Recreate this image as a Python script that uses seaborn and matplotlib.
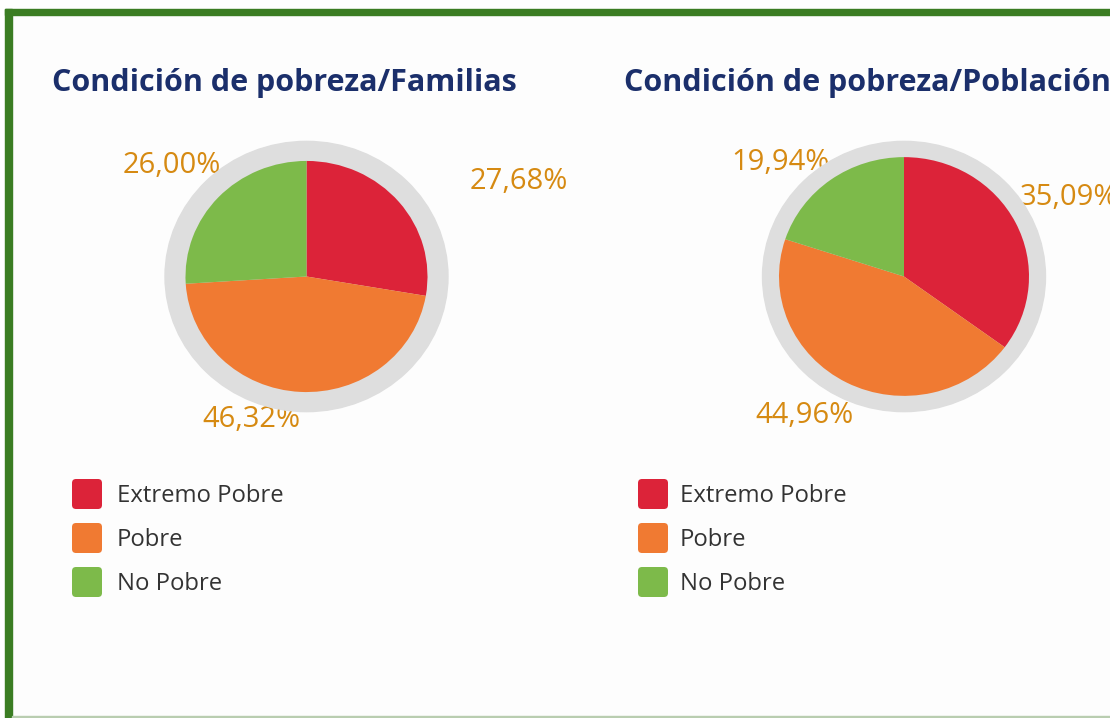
import matplotlib
matplotlib.use("Agg")
import matplotlib.pyplot as plt
from matplotlib.patches import Circle, Rectangle, FancyBboxPatch
import seaborn as sns

# --- data -------------------------------------------------------------
categories = ["Extremo Pobre", "Pobre", "No Pobre"]
familias = [27.68, 46.32, 26.00]
poblacion = [35.09, 44.96, 19.94]
titles = ["Condición de pobreza/Familias", "Condición de pobreza/Población"]

# --- style ------------------------------------------------------------
sns.set_theme(style="white")
plt.rcParams["font.family"] = ["Open Sans", "DejaVu Sans"]
palette = sns.color_palette(["#dc2339", "#f07a32", "#7dba4a"])
ring_color = "#dedede"
title_color = "#1b2f6b"
label_color = "#d68a12"
text_color = "#333333"
border_green = "#3b7d23"

W, H = 1110, 718
fig = plt.figure(figsize=(W / 100, H / 100), dpi=100, facecolor="#fdfdfd")
ax = fig.add_axes([0, 0, 1, 1])
ax.set_xlim(0, W)
ax.set_ylim(0, H)
ax.axis("off")


def py(y):
    """Convert a top-down pixel row to axis y."""
    return H - y


# panel layout (pixel units)
squash = 0.955   # pies are drawn slightly flattened
half = 150       # half-size of each pie's own axes, in pixels
panels = [
    dict(values=familias, title_x=52, center=(306.5, 276.5), r=121, ring=141.5,
         labels_xy=[(470, 189), (202, 427), (123, 173)],
         leg_x=72, text_x=117),
    dict(values=poblacion, title_x=624, center=(904, 276.5), r=125, ring=141.5,
         labels_xy=[(1020, 205), (755, 423), (731, 170)],
         leg_x=638, text_x=680),
]
legend_rows = [494, 538, 582]

for i, p in enumerate(panels):
    cx, cy = p["center"]
    pax = fig.add_axes([(cx - half) / W, (H - cy - half * squash) / H,
                        2 * half / W, 2 * half * squash / H])
    pax.add_patch(Circle((0, 0), p["ring"], color=ring_color, zorder=1))
    wedges, _ = pax.pie(p["values"], colors=palette, startangle=90,
                        counterclock=False, radius=p["r"], frame=True,
                        wedgeprops=dict(linewidth=0))
    for w in wedges:
        w.set_zorder(2)
    pax.set_aspect("auto")
    pax.set_xlim(-half, half)
    pax.set_ylim(-half, half)
    pax.axis("off")

    for v, (lx, ly) in zip(p["values"], p["labels_xy"]):
        ax.text(lx, py(ly), f"{v:.2f}%".replace(".", ","), color=label_color,
                fontsize=21, ha="left", va="baseline", zorder=3)
    ax.text(p["title_x"], py(91), titles[i], color=title_color,
            fontsize=22, fontweight="bold", ha="left", va="baseline")
    for cat, col, ry in zip(categories, palette, legend_rows):
        ax.add_patch(FancyBboxPatch((p["leg_x"] + 3, py(ry) - 12), 24, 24,
                                    boxstyle="round,pad=3,rounding_size=4",
                                    facecolor=col, edgecolor="none"))
        ax.text(p["text_x"], py(ry + 2), cat, color=text_color, fontsize=17.2,
                ha="left", va="center")

# frame around the panel
ax.add_patch(Rectangle((0, py(9)), W, 9, color="white", zorder=0))
ax.add_patch(Rectangle((0, 0), 5, H, color="white", zorder=0))
ax.add_patch(Rectangle((5, py(15)), W, 6, color=border_green, zorder=4))
ax.add_patch(Rectangle((5, 0), 7, py(9), color=border_green, zorder=4))
ax.add_patch(Rectangle((12, 0), W, 2, color="#b9cdb0", zorder=4))

fig.savefig("out.png", dpi=100, facecolor=fig.get_facecolor())
